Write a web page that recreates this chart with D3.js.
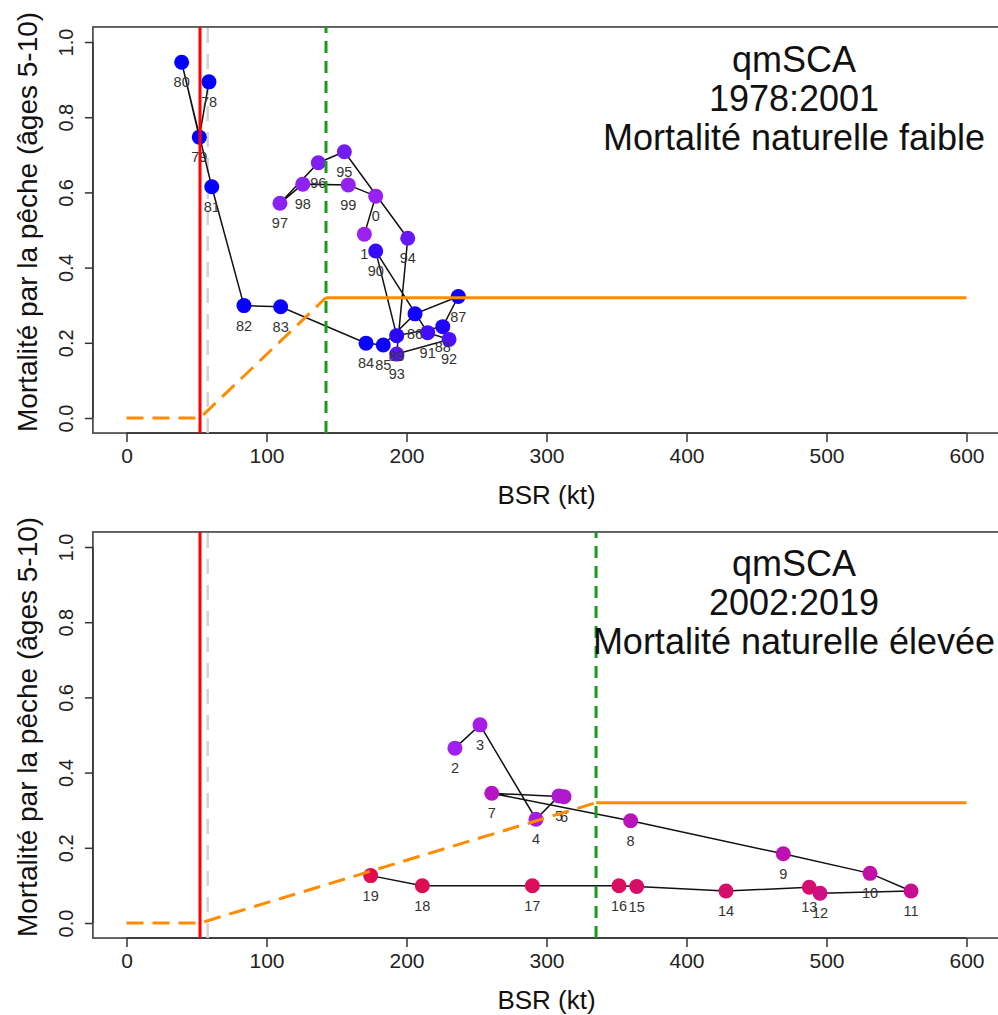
<!DOCTYPE html>
<html>
<head>
<meta charset="utf-8">
<script src="https://cdn.jsdelivr.net/npm/d3@7"></script>
<style>
  html, body { margin: 0; padding: 0; background: #fff; }
  svg text { font-family: "Liberation Sans", Arial, sans-serif; }
</style>
</head>
<body>
<svg id="chart" width="998" height="1015"></svg>
<script>
// ---------- DATA ----------
const xTicks = [0, 100, 200, 300, 400, 500, 600];
const yTicks = [0.0, 0.2, 0.4, 0.6, 0.8, 1.0];

// Panel 1: 1978-2001
const years1 = [1978,1979,1980,1981,1982,1983,1984,1985,1986,1987,1988,1989,1990,1991,1992,1993,1994,1995,1996,1997,1998,1999,2000,2001];
const labels1 = ["78","79","80","81","82","83","84","85","86","87","88","89","90","91","92","93","94","95","96","97","98","99","0","1"];
const ssb1 = [58.9,52.0,39.4,60.9,83.9,110.1,171.1,183.4,206.1,237.0,225.9,193.0,178.0,215.1,230.4,193.0,200.9,155.6,137.0,109.6,125.9,158.4,178.0,169.9];
const f1 = [0.894,0.747,0.946,0.615,0.299,0.296,0.199,0.194,0.277,0.323,0.243,0.219,0.444,0.227,0.209,0.170,0.478,0.708,0.679,0.571,0.622,0.620,0.590,0.489];

// Panel 2: 2002-2019
const years2 = [2002,2003,2004,2005,2006,2007,2008,2009,2010,2011,2012,2013,2014,2015,2016,2017,2018,2019];
const labels2 = ["2","3","4","5","6","7","8","9","10","11","12","13","14","15","16","17","18","19"];
const ssb2 = [234.6,252.5,292.5,308.9,312.5,260.9,360.1,469.1,531.1,560.4,495.4,487.7,428.2,364.4,351.8,289.9,211.3,174.4];
const f2 = [0.465,0.527,0.276,0.338,0.336,0.345,0.272,0.184,0.132,0.085,0.079,0.095,0.085,0.097,0.099,0.099,0.099,0.126];

// Reference points
const blim = 52.5;          // red line
const bgrey = 58.0;         // grey dashed line
const bmsy1 = 142.5;        // green dashed (panel 1)
const bmsy2 = 335.4;        // green dashed (panel 2)
const ftarget = 0.32;       // orange HCR plateau
const hcrXmax = 600;

const titles1 = ["qmSCA", "1978:2001", "Mortalité naturelle faible"];
const titles2 = ["qmSCA", "2002:2019", "Mortalité naturelle élevée"];
const xLabel = "BSR (kt)";
const yLabel = "Mortalité par la pêche (âges 5-10)";

// ---------- DRAW ----------
const svg = d3.select("#chart");
const x = d3.scaleLinear().domain([0, 600]).range([126.5, 966.5]);
const color = d3.scaleLinear()
  .domain([1978, 1987, 1997, 2002, 2010, 2013, 2019])
  .range(["#0000ff", "#1200ff", "#8a22f0", "#a020f0", "#c010a8", "#d40e70", "#e00c50"]);

function panel(yTop, years, labels, ssb, f, bmsy, titles, titleBase) {
  const y = d3.scaleLinear().domain([0, 1]).range([yTop + 391, yTop + 15]);
  const g = svg.append("g");
  const x0 = x(-24), x1 = x(624), y0 = y(-0.04), y1 = y(1.04);

  // box
  g.append("rect").attr("x", x0).attr("y", y1).attr("width", x1 - x0).attr("height", y0 - y1)
    .attr("fill", "none").attr("stroke", "#333").attr("stroke-width", 1.5);

  // x axis
  const xa = g.append("g").attr("transform", `translate(0,${y0})`)
    .call(d3.axisBottom(x).tickValues(xTicks).tickSize(9).tickPadding(6).tickFormat(d3.format("d")));
  xa.select(".domain").attr("stroke", "#333").attr("stroke-width", 1.5).attr("d", `M${x(0)},0H${x(600)}`);
  xa.selectAll(".tick line").attr("stroke", "#333").attr("stroke-width", 1.5);
  xa.selectAll(".tick text").attr("font-size", 21).attr("fill", "#222")
    .attr("font-family", "Liberation Sans, Arial, sans-serif");

  // y axis
  const ya = g.append("g").attr("transform", `translate(${x0},0)`)
    .call(d3.axisLeft(y).tickValues(yTicks).tickSize(8).tickFormat(d3.format(".1f")));
  ya.select(".domain").attr("stroke", "#333").attr("stroke-width", 1.5).attr("d", `M0,${y(0)}V${y(1)}`);
  ya.selectAll(".tick line").attr("stroke", "#333").attr("stroke-width", 1.5);
  ya.selectAll(".tick text")
    .attr("font-size", 20).attr("fill", "#222")
    .attr("font-family", "Liberation Sans, Arial, sans-serif")
    .attr("x", null).attr("dy", null)
    .attr("text-anchor", "middle")
    .attr("transform", "translate(-20,0) rotate(-90)");

  // axis titles
  g.append("text").attr("x", (x0 + x1) / 2).attr("y", y0 + 71).attr("text-anchor", "middle")
    .attr("font-size", 26).attr("fill", "#111").text(xLabel);
  g.append("text").attr("transform", `translate(37,${(y0 + y1) / 2 - 8}) rotate(-90)`)
    .attr("text-anchor", "middle").attr("font-size", 28).attr("fill", "#111").text(yLabel);

  // grey dashed line
  g.append("line").attr("x1", x(bgrey)).attr("x2", x(bgrey)).attr("y1", y0).attr("y2", y1)
    .attr("stroke", "#d3d3d3").attr("stroke-width", 2.5).attr("stroke-dasharray", "15,11");

  // trajectory
  const pts = ssb.map((s, i) => ({ s, f: f[i], yr: years[i], lab: labels[i] }));
  g.append("path").datum(pts)
    .attr("d", d3.line().x(d => x(d.s)).y(d => y(d.f)))
    .attr("fill", "none").attr("stroke", "#111").attr("stroke-width", 1.5);
  g.selectAll("circle.pt").data(pts).enter().append("circle")
    .attr("cx", d => x(d.s)).attr("cy", d => y(d.f)).attr("r", 7.5)
    .attr("fill", d => color(d.yr));
  g.selectAll("text.lab").data(pts).enter().append("text")
    .attr("x", d => x(d.s)).attr("y", d => y(d.f) + 25)
    .attr("text-anchor", "middle").attr("font-size", 14.5).attr("fill", "#333")
    .text(d => d.lab);

  // red Blim line
  g.append("line").attr("x1", x(blim)).attr("x2", x(blim)).attr("y1", y0).attr("y2", y1)
    .attr("stroke", "#ff0000").attr("stroke-width", 3);
  // green dashed line
  g.append("line").attr("x1", x(bmsy)).attr("x2", x(bmsy)).attr("y1", y0).attr("y2", y1)
    .attr("stroke", "#1a9a1a").attr("stroke-width", 3).attr("stroke-dasharray", "12,8");

  // HCR orange
  g.append("path")
    .attr("d", d3.line()([[x(0), y(0)], [x(blim), y(0)], [x(bmsy), y(ftarget)]]))
    .attr("fill", "none").attr("stroke", "#ff8c00").attr("stroke-width", 3).attr("stroke-dasharray", "17,9");
  g.append("path")
    .attr("d", d3.line()([[x(bmsy), y(ftarget)], [x(hcrXmax), y(ftarget)]]))
    .attr("fill", "none").attr("stroke", "#ff8c00").attr("stroke-width", 3);

  // titles
  titles.forEach((t, i) => {
    g.append("text").attr("x", 794).attr("y", titleBase + i * 39)
      .attr("text-anchor", "middle").attr("font-size", 36).attr("fill", "#111").text(t);
  });
}

panel(27, years1, labels1, ssb1, f1, bmsy1, titles1, 72);
panel(532, years2, labels2, ssb2, f2, bmsy2, titles2, 576);
</script>
</body>
</html>
